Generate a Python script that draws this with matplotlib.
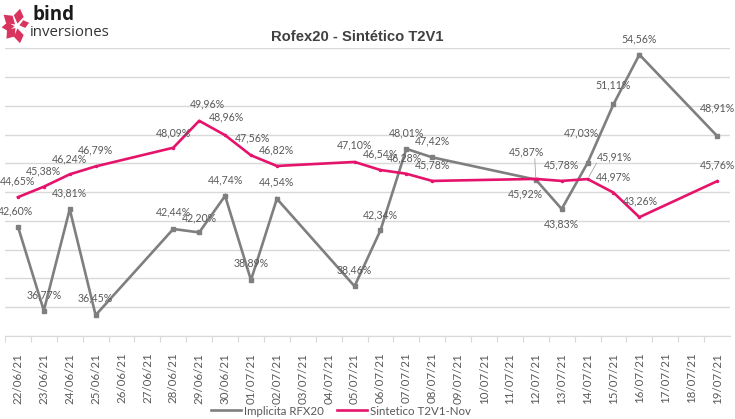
import matplotlib
matplotlib.use("Agg")
import matplotlib.pyplot as plt
import matplotlib.dates as mdates
from matplotlib.patches import Polygon
import numpy as np
import datetime as dt

# ---------------- data ----------------
gray_dates = ["2021-06-22", "2021-06-23", "2021-06-24", "2021-06-25", "2021-06-28",
              "2021-06-29", "2021-06-30", "2021-07-01", "2021-07-02", "2021-07-05",
              "2021-07-06", "2021-07-07", "2021-07-08", "2021-07-12", "2021-07-13",
              "2021-07-14", "2021-07-15", "2021-07-16", "2021-07-19"]
gray_values = [42.60, 36.77, 43.81, 36.45, 42.44, 42.20, 44.74, 38.89, 44.54, 38.46,
               42.34, 48.01, 47.42, 45.87, 43.83, 47.03, 51.11, 54.56, 48.91]

pink_dates = gray_dates
pink_values = [44.65, 45.38, 46.24, 46.79, 48.09, 49.96, 48.96, 47.56, 46.82, 47.10,
               46.54, 46.28, 45.78, 45.92, 45.78, 45.91, 44.97, 43.26, 45.76]

series_names = ["Implicita RFX20", "Sintetico T2V1-Nov"]
title = "Rofex20 - Sintético T2V1"
axis_start = "2021-06-22"
axis_end = "2021-07-19"

# label offsets (pixels) for data labels
gray_off = [(-2, 16), (0, 16), (0, 16), (0, 17), (0, 17), (0, 15), (0, 16), (0, 17),
            (0, 17), (0, 16), (0, 15), (0, 16), (0, 16), (-9, 28), (0, -15), (-6, 30),
            (0, 19), (0, 16), (0, 28)]
pink_off = [(0, 16), (0, 16), (0, 15), (0, 16), (0, 15), (8, 17), (1, 18), (2, 17),
            (0, 16), (0, 17), (0, 16), (-2, 16), (0, 16), (-10, -15), (0, 16), (27, 22),
            (0, 16), (1, 16), (0, 16)]
gray_leader = {13}
pink_leader = {15}

GRAY = "#7f7f7f"
PINK = "#e5136b"
TXT = "#595959"
GRID = "#d9d9d9"

W, H = 735, 419
fig = plt.figure(figsize=(W / 100, H / 100), dpi=100)
fig.patch.set_facecolor("white")

ax = fig.add_axes([5 / W, (H - 336) / H, 725 / W, (336 - 48.3) / H])

gx = [mdates.date2num(dt.datetime.strptime(d, "%Y-%m-%d")) for d in gray_dates]
px = [mdates.date2num(dt.datetime.strptime(d, "%Y-%m-%d")) for d in pink_dates]
x0 = mdates.date2num(dt.datetime.strptime(axis_start, "%Y-%m-%d"))
x1 = mdates.date2num(dt.datetime.strptime(axis_end, "%Y-%m-%d"))

ax.plot(gx, gray_values, color=GRAY, lw=1.9, marker="s", ms=2.2, zorder=3,
        solid_joinstyle="miter", label=series_names[0])
ax.plot(px, pink_values, color=PINK, lw=1.9, marker="o", ms=1.5, zorder=4,
        label=series_names[1])

def fmt(v):
    return f"{v:.2f}".replace(".", ",") + "%"

for i, (x, v) in enumerate(zip(gx, gray_values)):
    dx, dy = gray_off[i]
    ax.annotate(fmt(v), (x, v), xytext=(dx, dy), textcoords="offset pixels",
                ha="center", va="center", fontsize=7.6, color=TXT,
                family="Lato", zorder=6, annotation_clip=False)
    if i in gray_leader:
        ax.annotate("", (x, v), xytext=(dx + 8, dy - 7), textcoords="offset pixels",
                    arrowprops=dict(arrowstyle="-", color="#a6a6a6", lw=0.6,
                                    shrinkA=0, shrinkB=2))
for i, (x, v) in enumerate(zip(px, pink_values)):
    dx, dy = pink_off[i]
    ax.annotate(fmt(v), (x, v), xytext=(dx, dy), textcoords="offset pixels",
                ha="center", va="center", fontsize=7.6, color=TXT,
                family="Lato", zorder=6, annotation_clip=False)
    if i in pink_leader:
        ax.annotate("", (x, v), xytext=(dx - 18, dy - 6), textcoords="offset pixels",
                    arrowprops=dict(arrowstyle="-", color="#a6a6a6", lw=0.6,
                                    shrinkA=0, shrinkB=2))

ax.set_xlim(x0 - 0.5, x1 + 0.5)
ax.set_ylim(35, 55)
ax.set_yticks(np.arange(35, 55.1, 2))
ax.yaxis.grid(True, color=GRID, lw=1)
ax.set_axisbelow(True)
ax.tick_params(axis="y", left=False, labelleft=False)

days = np.arange(x0, x1 + 1)
ax.set_xticks(days - 0.5)
ax.set_xticks(days, minor=True)
ax.xaxis.set_major_formatter(plt.NullFormatter())
ax.xaxis.set_minor_formatter(mdates.DateFormatter("%d/%m/%y"))
ax.tick_params(axis="x", which="major", length=4, color=GRID, width=0.8)
ax.tick_params(axis="x", which="minor", length=0, pad=12, labelrotation=90,
               labelsize=8.3, labelcolor=TXT)
for lab in ax.xaxis.get_minorticklabels():
    lab.set_family("Lato")
for s in ["top", "right", "left"]:
    ax.spines[s].set_visible(False)
ax.spines["bottom"].set_color(GRID)

# title
fig.text(357 / W, 1 - 37 / H, title, ha="center", va="center", fontsize=10.6,
         fontweight="bold", color="#404040", family="Liberation Sans")

# legend
leg = fig.legend(loc="center", bbox_to_anchor=(341 / W, 1 - 411 / H), ncol=2,
                 frameon=False, handlelength=2.6, columnspacing=1.2,
                 handletextpad=0.2, prop={"family": "Lato", "size": 8.3})
for t in leg.get_texts():
    t.set_color(TXT)
for h in leg.legend_handles:
    h.set_marker("")

# logo
cx, cy = 17, 26
petals = [(80, 15, 5), (140, 15, 5), (185, 13, 4.5), (230, 14, 5), (280, 15, 5), (15, 10, 4)]
for ang, r, w in petals:
    a = np.deg2rad(ang)
    ux, uy = np.cos(a), np.sin(a)
    vx, vy = -uy, ux
    r0 = 2.5
    pts = [(cx + ux * r0, cy - uy * r0),
           (cx + ux * (r0 + r / 2) + vx * w, cy - (uy * (r0 + r / 2) + vy * w)),
           (cx + ux * (r0 + r), cy - uy * (r0 + r)),
           (cx + ux * (r0 + r / 2) - vx * w, cy - (uy * (r0 + r / 2) - vy * w))]
    pts = [(p[0] / W, 1 - p[1] / H) for p in pts]
    fig.patches.append(Polygon(pts, closed=True, transform=fig.transFigure,
                               facecolor="#d9345e", edgecolor="none"))
fig.text(32 / W, 1 - 15 / H, "bind", ha="left", va="center", fontsize=13.5,
         fontweight="bold", color="#1a1a1a", family="Open Sans")
fig.text(30 / W, 1 - 33 / H, "inversiones", ha="left", va="center", fontsize=10.8,
         color="#333333", family="Open Sans")

fig.savefig("out.png", dpi=100, facecolor="white")
